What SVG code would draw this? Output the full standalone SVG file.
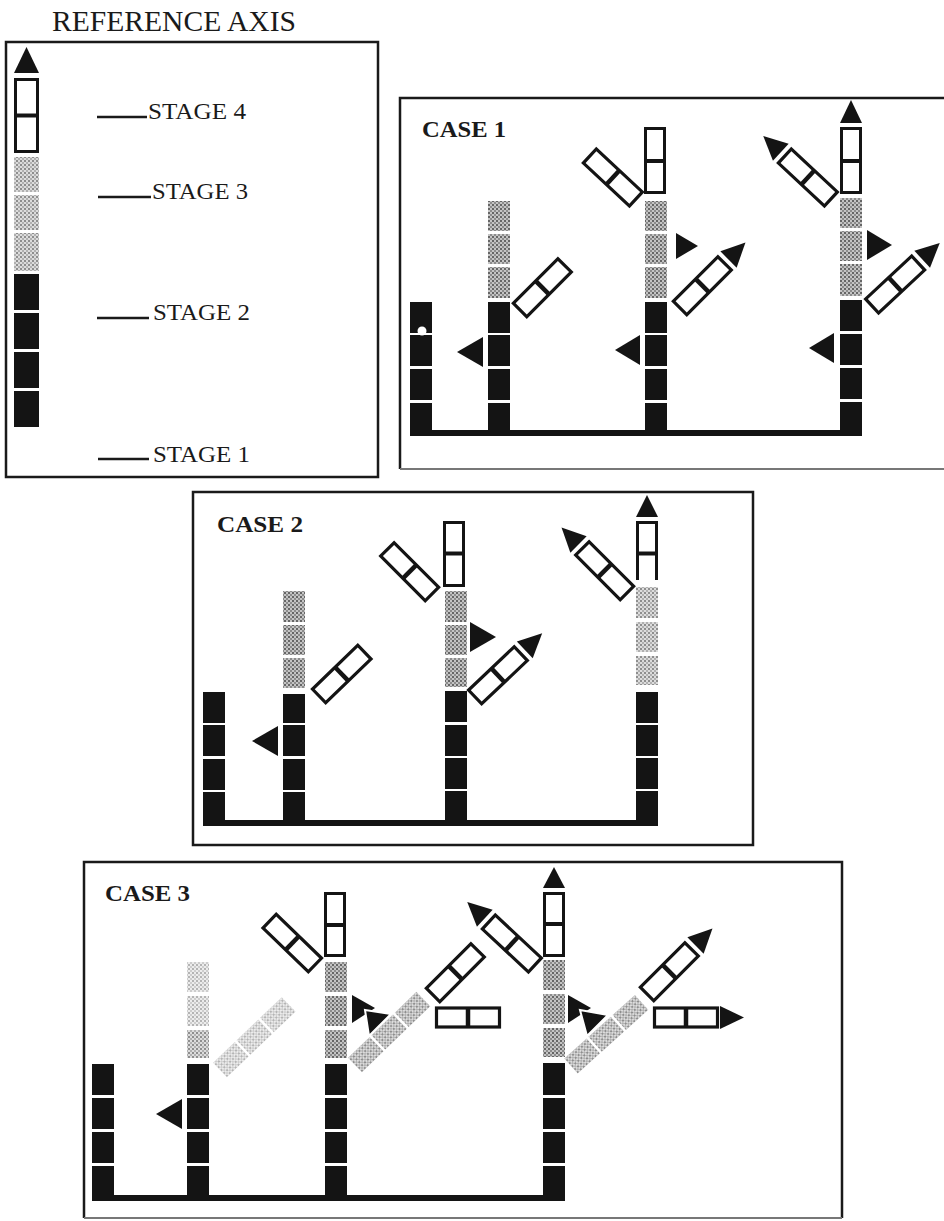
<svg xmlns="http://www.w3.org/2000/svg" xmlns:xlink="http://www.w3.org/1999/xlink" width="944" height="1221" viewBox="0 0 944 1221">
  <defs>
    <!-- halftone fills for the stage-3 cells -->
    <pattern id="dots" width="4" height="4" patternUnits="userSpaceOnUse">
      <rect width="4" height="4" fill="#c4c4c4"/>
      <rect width="2" height="2" fill="#666"/>
      <rect x="2" y="2" width="2" height="2" fill="#8c8c8c"/>
    </pattern>
    <pattern id="dotsLight" width="4" height="4" patternUnits="userSpaceOnUse">
      <rect width="4" height="4" fill="#dcdcdc"/>
      <rect width="2" height="2" fill="#8e8e8e"/>
      <rect x="2" y="2" width="2" height="2" fill="#b0b0b0"/>
    </pattern>
    <pattern id="dotsFaint" width="4" height="4" patternUnits="userSpaceOnUse">
      <rect width="4" height="4" fill="#ececec"/>
      <rect width="2" height="2" fill="#b4b4b4"/>
      <rect x="2" y="2" width="2" height="2" fill="#cdcdcd"/>
    </pattern>
    <!-- two open stage-4 cells laid along +x, pivot at x=0 -->
    <g id="rod">
      <rect x="1.5" y="-9.5" width="63" height="19" fill="#fff" stroke="#141414" stroke-width="3.2"/>
      <line x1="33" y1="-9.5" x2="33" y2="9.5" stroke="#141414" stroke-width="4.5"/>
    </g>
    <polygon id="tip" points="70,-11.5 70,11.5 94,0" fill="#141414"/>
    <!-- three stage-3 cells laid along +x -->
    <g id="greyRod">
      <rect x="0" y="-10" width="30" height="20"/>
      <rect x="32.5" y="-10" width="30" height="20"/>
      <rect x="65" y="-10" width="30" height="20"/>
    </g>
  </defs>
  <style>
    .blk { fill: #141414; }
    .g1 { fill: url(#dots); }
    .g2 { fill: url(#dotsLight); }
    .g3 { fill: url(#dotsFaint); }
    .wbox { fill: #fff; stroke: #141414; stroke-width: 3; }
    .div { stroke: #141414; stroke-width: 4; }
    .frame { fill: none; stroke: #1a1a1a; stroke-width: 2.5; }
    .faint { fill: none; stroke: #777; stroke-width: 2; }
    .tri { fill: #141414; }
    .tri2 { fill: #141414; stroke: #fff; stroke-width: 2; }
    .tick { stroke: #1a1a1a; stroke-width: 2.5; }
    .serif { font-family: "Liberation Serif", "Times New Roman", serif; fill: #1a1a1a; }
    .case { font-family: "Liberation Serif", "Times New Roman", serif; font-weight: bold; font-size: 24px; fill: #1a1a1a; }
  </style>

  <rect width="944" height="1221" fill="#fff"/>

  <!-- ===== reference axis ===== -->
  <g id="axis">
    <text class="serif" x="52" y="31" font-size="29" textLength="244" lengthAdjust="spacingAndGlyphs">REFERENCE AXIS</text>
    <rect class="frame" x="6" y="42" width="372" height="435"/>
    <g id="axis-column">
      <polygon class="tri" points="26.5,47 39,73 14,73"/>
      <rect class="wbox" x="15.5" y="79.5" width="22" height="72"/>
      <line class="div" x1="14" y1="115.5" x2="39" y2="115.5"/>
      <rect class="g2" x="14" y="157" width="25" height="35"/>
      <rect class="g2" x="14" y="195" width="25" height="35"/>
      <rect class="g2" x="14" y="233" width="25" height="38"/>
      <rect class="blk" x="14" y="274" width="25" height="36"/>
      <rect class="blk" x="14" y="313" width="25" height="36"/>
      <rect class="blk" x="14" y="352" width="25" height="36"/>
      <rect class="blk" x="14" y="391" width="25" height="36"/>
    </g>
    <g id="stage-labels">
      <line class="tick" x1="97" y1="117" x2="147" y2="117"/>
      <text class="serif" x="148" y="119" font-size="24" textLength="98" lengthAdjust="spacingAndGlyphs">STAGE 4</text>
      <line class="tick" x1="98" y1="197" x2="151" y2="197"/>
      <text class="serif" x="152" y="199" font-size="24" textLength="96" lengthAdjust="spacingAndGlyphs">STAGE 3</text>
      <line class="tick" x1="97" y1="318" x2="149" y2="318"/>
      <text class="serif" x="153" y="320" font-size="24" textLength="97" lengthAdjust="spacingAndGlyphs">STAGE 2</text>
      <line class="tick" x1="98" y1="459" x2="149" y2="459"/>
      <text class="serif" x="153" y="462" font-size="24" textLength="97" lengthAdjust="spacingAndGlyphs">STAGE 1</text>
    </g>
  </g>

  <!-- ===== case 1 ===== -->
  <g id="case1">
    <path class="frame" d="M950,98 H400 V469"/>
    <line class="faint" x1="400" y1="469" x2="944" y2="469"/>
    <text class="case" x="422" y="137" textLength="84" lengthAdjust="spacingAndGlyphs">CASE 1</text>

    <g id="c1-col-a">
      <rect class="blk" x="410" y="302" width="22" height="31"/>
      <rect class="blk" x="410" y="335" width="22" height="31"/>
      <rect class="blk" x="410" y="369" width="22" height="31"/>
      <rect class="blk" x="410" y="403" width="22" height="33"/>
      <circle cx="422" cy="331" r="4.5" fill="#fff"/>
    </g>

    <g id="c1-col-b">
      <rect class="g1" x="488" y="201" width="22" height="30"/>
      <rect class="g1" x="488" y="234" width="22" height="30"/>
      <rect class="g1" x="488" y="267" width="22" height="31"/>
      <rect class="blk" x="488" y="302" width="22" height="31"/>
      <rect class="blk" x="488" y="335" width="22" height="31"/>
      <rect class="blk" x="488" y="369" width="22" height="31"/>
      <rect class="blk" x="488" y="403" width="22" height="33"/>
      <polygon class="tri" points="457,352 483,337 483,367"/>
      <g transform="translate(519,311) rotate(-45)"><use xlink:href="#rod"/></g>
    </g>

    <g id="c1-col-c">
      <rect class="wbox" x="645.5" y="128.5" width="19" height="64"/>
      <line class="div" x1="644" y1="161" x2="666" y2="161"/>
      <rect class="g1" x="645" y="201" width="22" height="30"/>
      <rect class="g1" x="645" y="234" width="22" height="30"/>
      <rect class="g1" x="645" y="267" width="22" height="31"/>
      <rect class="blk" x="645" y="302" width="22" height="31"/>
      <rect class="blk" x="645" y="335" width="22" height="31"/>
      <rect class="blk" x="645" y="369" width="22" height="31"/>
      <rect class="blk" x="645" y="403" width="22" height="33"/>
      <polygon class="tri" points="615,350 640,335 640,365"/>
      <polygon class="tri" points="676,233 676,259 698,246"/>
      <g transform="translate(637,200) rotate(-137)"><use xlink:href="#rod"/></g>
      <g transform="translate(679,309) rotate(-45)"><use xlink:href="#rod"/><use xlink:href="#tip"/></g>
    </g>

    <g id="c1-col-d">
      <polygon class="tri" points="851,100 862,123 840,123"/>
      <rect class="wbox" x="841.5" y="128.5" width="19" height="64"/>
      <line class="div" x1="840" y1="161" x2="862" y2="161"/>
      <rect class="g1" x="840" y="198" width="22" height="30"/>
      <rect class="g1" x="840" y="231" width="22" height="30"/>
      <rect class="g1" x="840" y="264" width="22" height="32"/>
      <rect class="blk" x="840" y="300" width="22" height="31"/>
      <rect class="blk" x="840" y="334" width="22" height="31"/>
      <rect class="blk" x="840" y="368" width="22" height="31"/>
      <rect class="blk" x="840" y="402" width="22" height="34"/>
      <polygon class="tri" points="809,348 834,333 834,363"/>
      <polygon class="tri" points="867,230 867,260 892,245"/>
      <g transform="translate(832,200) rotate(-137)"><use xlink:href="#rod"/><use xlink:href="#tip"/></g>
      <g transform="translate(871,307) rotate(-43)"><use xlink:href="#rod"/><use xlink:href="#tip"/></g>
    </g>
  </g>

  <!-- ===== case 2 ===== -->
  <g id="case2">
    <rect class="frame" x="193" y="492" width="560" height="353"/>
    <text class="case" x="217" y="532" textLength="86" lengthAdjust="spacingAndGlyphs">CASE 2</text>

    <g id="c2-col-a">
      <rect class="blk" x="203" y="692" width="22" height="31"/>
      <rect class="blk" x="203" y="725" width="22" height="31"/>
      <rect class="blk" x="203" y="759" width="22" height="31"/>
      <rect class="blk" x="203" y="792" width="22" height="34"/>
    </g>

    <g id="c2-col-b">
      <rect class="g1" x="283" y="591" width="22" height="31"/>
      <rect class="g1" x="283" y="625" width="22" height="30"/>
      <rect class="g1" x="283" y="658" width="22" height="30"/>
      <rect class="blk" x="283" y="694" width="22" height="29"/>
      <rect class="blk" x="283" y="725" width="22" height="31"/>
      <rect class="blk" x="283" y="759" width="22" height="31"/>
      <rect class="blk" x="283" y="792" width="22" height="34"/>
      <polygon class="tri" points="252,741 278,726 278,756"/>
      <g transform="translate(318,697) rotate(-44)"><use xlink:href="#rod"/></g>
    </g>

    <g id="c2-col-c">
      <rect class="wbox" x="444.5" y="522.5" width="19" height="63"/>
      <line class="div" x1="443" y1="553.5" x2="465" y2="553.5"/>
      <rect class="g1" x="445" y="591" width="22" height="31"/>
      <rect class="g1" x="445" y="625" width="22" height="30"/>
      <rect class="g1" x="445" y="658" width="22" height="29"/>
      <rect class="blk" x="445" y="691" width="22" height="31"/>
      <rect class="blk" x="445" y="725" width="22" height="31"/>
      <rect class="blk" x="445" y="758" width="22" height="31"/>
      <rect class="blk" x="445" y="791" width="22" height="35"/>
      <polygon class="tri" points="470,622 470,652 496,637"/>
      <g transform="translate(433,595) rotate(-135)"><use xlink:href="#rod"/></g>
      <g transform="translate(474,698) rotate(-43.5)"><use xlink:href="#rod"/><use xlink:href="#tip"/></g>
    </g>

    <g id="c2-col-d">
      <polygon class="tri" points="647,495 658,517 636,517"/>
      <rect class="wbox" x="637.5" y="522.5" width="19" height="31"/>
      <path d="M637.5,553 V580 M656.5,553 V580" stroke="#141414" stroke-width="3" fill="none"/>
      <line class="div" x1="636" y1="553.5" x2="658" y2="553.5"/>
      <rect class="g2" x="636" y="587" width="22" height="31"/>
      <rect class="g2" x="636" y="622" width="22" height="30"/>
      <rect class="g2" x="636" y="656" width="22" height="29"/>
      <rect class="blk" x="636" y="692" width="22" height="31"/>
      <rect class="blk" x="636" y="725" width="22" height="31"/>
      <rect class="blk" x="636" y="758" width="22" height="31"/>
      <rect class="blk" x="636" y="791" width="22" height="35"/>
      <g transform="translate(628,594) rotate(-135)"><use xlink:href="#rod"/><use xlink:href="#tip"/></g>
    </g>
  </g>

  <!-- ===== case 3 ===== -->
  <g id="case3">
    <path class="frame" d="M84,1218 V862 H842 V1218"/>
    <line class="faint" x1="84" y1="1218" x2="842" y2="1218"/>
    <text class="case" x="105" y="901" textLength="85" lengthAdjust="spacingAndGlyphs">CASE 3</text>

    <g id="c3-col-a">
      <rect class="blk" x="92" y="1064" width="22" height="31"/>
      <rect class="blk" x="92" y="1098" width="22" height="31"/>
      <rect class="blk" x="92" y="1132" width="22" height="31"/>
      <rect class="blk" x="92" y="1166" width="22" height="35"/>
    </g>

    <g id="c3-col-b">
      <rect class="g3" x="187" y="962" width="22" height="30"/>
      <rect class="g3" x="187" y="996" width="22" height="30"/>
      <rect class="g2" x="187" y="1030" width="22" height="28"/>
      <rect class="blk" x="187" y="1064" width="22" height="31"/>
      <rect class="blk" x="187" y="1098" width="22" height="31"/>
      <rect class="blk" x="187" y="1132" width="22" height="31"/>
      <rect class="blk" x="187" y="1166" width="22" height="35"/>
      <polygon class="tri" points="156,1114 182,1099 182,1129"/>
      <g transform="translate(220,1070) rotate(-43.7)" class="g3"><use xlink:href="#greyRod"/></g>
    </g>

    <g id="c3-col-c">
      <rect class="wbox" x="325.5" y="893.5" width="19" height="62"/>
      <line class="div" x1="324" y1="925" x2="346" y2="925"/>
      <rect class="g1" x="325" y="962" width="22" height="30"/>
      <rect class="g1" x="325" y="996" width="22" height="30"/>
      <rect class="g1" x="325" y="1030" width="22" height="28"/>
      <rect class="blk" x="325" y="1064" width="22" height="31"/>
      <rect class="blk" x="325" y="1098" width="22" height="31"/>
      <rect class="blk" x="325" y="1132" width="22" height="31"/>
      <rect class="blk" x="325" y="1166" width="22" height="35"/>
      <g transform="translate(316,966) rotate(-136)"><use xlink:href="#rod"/></g>
      <g transform="translate(355,1065) rotate(-44)" class="g2"><use xlink:href="#greyRod"/></g>
      <polygon class="tri" points="352,995 352,1023 375,1008"/>
      <polygon class="tri2" points="365,1010 391,1014 369,1036"/>
      <g transform="translate(432,996) rotate(-45)"><use xlink:href="#rod"/></g>
      <g transform="translate(435,1017.5)"><use xlink:href="#rod"/></g>
    </g>

    <g id="c3-col-d">
      <polygon class="tri" points="554,867 565,888 543,888"/>
      <rect class="wbox" x="544.5" y="893.5" width="19" height="62"/>
      <line class="div" x1="543" y1="924" x2="565" y2="924"/>
      <rect class="g1" x="543" y="960" width="22" height="30"/>
      <rect class="g1" x="543" y="994" width="22" height="30"/>
      <rect class="g1" x="543" y="1028" width="22" height="29"/>
      <rect class="blk" x="543" y="1063" width="22" height="32"/>
      <rect class="blk" x="543" y="1098" width="22" height="31"/>
      <rect class="blk" x="543" y="1132" width="22" height="31"/>
      <rect class="blk" x="543" y="1166" width="22" height="35"/>
      <g transform="translate(536,966) rotate(-137)"><use xlink:href="#rod"/><use xlink:href="#tip"/></g>
      <g transform="translate(571,1066) rotate(-42)" class="g2"><use xlink:href="#greyRod"/></g>
      <polygon class="tri" points="568,995 568,1023 591,1008"/>
      <polygon class="tri2" points="580,1010 608,1015 587,1036"/>
      <g transform="translate(646,995) rotate(-45)"><use xlink:href="#rod"/><use xlink:href="#tip"/></g>
      <g transform="translate(653,1017.5)"><use xlink:href="#rod"/><use xlink:href="#tip" transform="translate(-3,0)"/></g>
    </g>
  </g>

  <!-- base bars joining the columns of each case -->
  <g id="connectors" class="blk">
    <rect x="410" y="430" width="452" height="6"/>
    <rect x="203" y="820" width="455" height="6"/>
    <rect x="92" y="1195" width="473" height="6"/>
  </g>
</svg>
